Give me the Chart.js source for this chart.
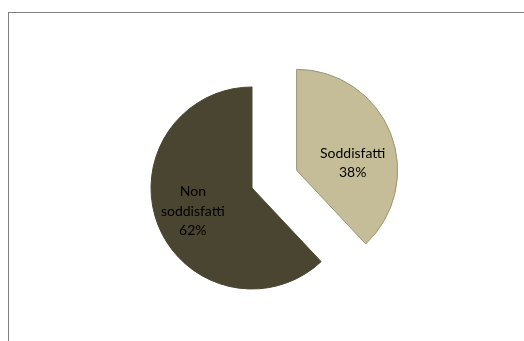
<!DOCTYPE html>
<html>
<head>
<meta charset="utf-8">
<script src="https://cdn.jsdelivr.net/npm/chart.js@4/dist/chart.umd.min.js"></script>
<style>
  html, body { margin: 0; padding: 0; background: #fff; }
  #wrap { position: relative; width: 524px; height: 341px; }
  #frame {
    position: absolute; left: 8px; top: 12px; right: 0; bottom: 0;
    border-top: 1px solid #808080; border-left: 1px solid #808080;
    pointer-events: none;
  }
  canvas { position: absolute; left: 0; top: 0; }
</style>
</head>
<body>
<div id="wrap">
  <canvas id="pie" width="524" height="341"></canvas>
  <div id="frame"></div>
</div>
<script>
const categories = ["Soddisfatti", "Non soddisfatti"];
const values = [38, 62];

const sliceColors = ["#c4bd97", "#4a4530"];
const edgeColors = ["#9a9578", "#4a4530"];
// how far (px) each slice is pulled away from the centre
const explode = [48, 0];
// label placement: fraction of the radius, and turn in degrees off the slice mid-angle
const labelDist = [0.56, 0.63];
const labelTurn = [14, 0];

const total = values.reduce((a, b) => a + b, 0);

function slicePos(arc, i) {
  const mid = (arc.startAngle + arc.endAngle) / 2;
  return {
    x: arc.x + Math.cos(mid) * explode[i],
    y: arc.y + Math.sin(mid) * explode[i],
    mid: mid
  };
}

// draws each arc shifted along its mid-angle, then the data labels
const explodedPie = {
  id: "explodedPie",
  beforeDatasetDraw(chart, args) {
    const ctx = chart.ctx;
    args.meta.data.forEach((arc, i) => {
      const p = slicePos(arc, i);
      ctx.save();
      ctx.translate(p.x - arc.x, p.y - arc.y);
      arc.draw(ctx);
      ctx.restore();
    });
    return false;
  },
  afterDatasetsDraw(chart) {
    const ctx = chart.ctx;
    const meta = chart.getDatasetMeta(0);
    ctx.save();
    ctx.font = "14px Lato";
    ctx.fillStyle = "#000";
    ctx.textAlign = "center";
    ctx.textBaseline = "middle";
    meta.data.forEach((arc, i) => {
      const p = slicePos(arc, i);
      const a = p.mid + labelTurn[i] * Math.PI / 180;
      const r = arc.outerRadius * labelDist[i];
      const cx = p.x + Math.cos(a) * r;
      const cy = p.y + Math.sin(a) * r;
      const lines = categories[i].split(" ");
      lines.push(Math.round(values[i] / total * 100) + "%");
      const lh = 19.5;
      lines.forEach((t, k) => {
        ctx.fillText(t, cx, cy + (k - (lines.length - 1) / 2) * lh);
      });
    });
    ctx.restore();
  }
};

new Chart(document.getElementById("pie").getContext("2d"), {
  type: "pie",
  data: {
    labels: categories,
    datasets: [{
      data: values,
      backgroundColor: sliceColors,
      borderColor: edgeColors,
      borderWidth: 1,
      radius: 101
    }]
  },
  options: {
    responsive: false,
    animation: false,
    radius: 101,
    layout: { padding: { left: 0, right: 20, top: 35, bottom: 0 } },
    plugins: {
      legend: { display: false },
      tooltip: { enabled: false }
    }
  },
  plugins: [explodedPie]
});
</script>
</body>
</html>
